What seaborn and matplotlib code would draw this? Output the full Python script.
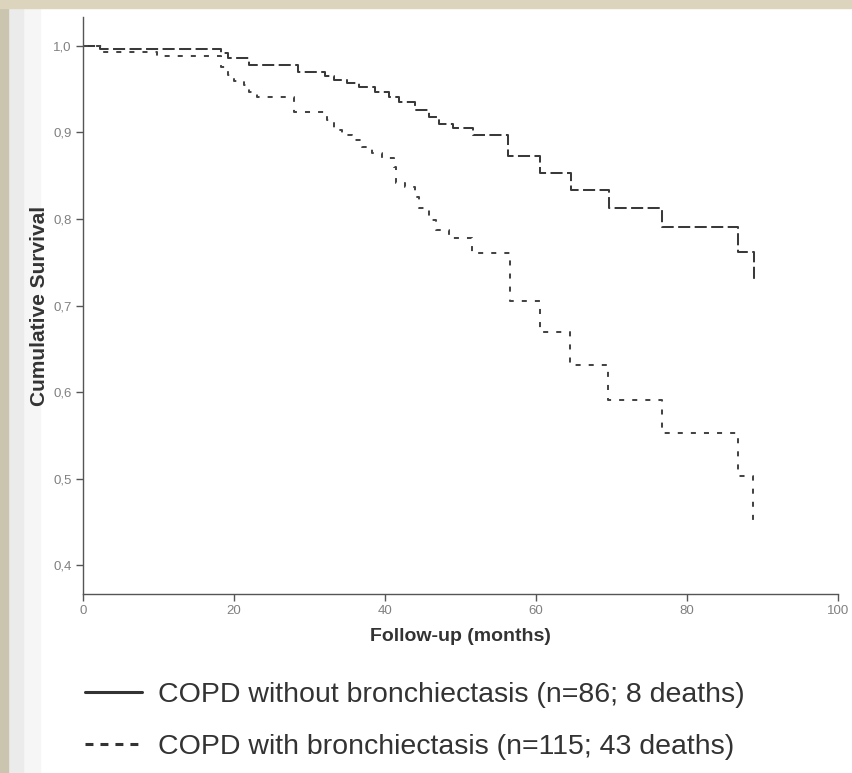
import numpy as np
import pandas as pd
import matplotlib
matplotlib.use('Agg')
import matplotlib.pyplot as plt
from matplotlib.lines import Line2D
from matplotlib.patches import Rectangle
from matplotlib.ticker import FuncFormatter
import seaborn as sns

# Kaplan-Meier steps (months, cumulative survival)
t_without = [0, 2.3, 18.3, 19.2, 22.0, 28.5, 32.0, 33.3, 35.0, 36.5, 38.7, 40.5, 41.9,
             44.0, 45.8, 47.2, 49.0, 51.6, 56.3, 60.5, 64.7, 69.7, 76.7, 86.7, 88.9]
s_without = [1.0, 0.997, 0.992, 0.986, 0.978, 0.970, 0.965, 0.961, 0.957, 0.953, 0.947, 0.941, 0.935,
             0.926, 0.918, 0.910, 0.905, 0.897, 0.873, 0.853, 0.833, 0.813, 0.791, 0.762, 0.729]

t_with = [0, 2.7, 9.8, 18.3, 19.2, 20.0, 21.3, 22.0, 23.0, 28.0, 32.3, 33.2, 34.3, 35.6, 37.0,
          38.3, 39.6, 41.2, 41.5, 42.7, 44.0, 44.5, 45.8, 46.7, 48.5, 51.5, 56.5, 60.5, 64.5,
          69.6, 76.7, 86.7, 88.8]
s_with = [1.0, 0.993, 0.988, 0.976, 0.966, 0.960, 0.955, 0.947, 0.941, 0.924, 0.914, 0.903, 0.897, 0.891, 0.883,
          0.876, 0.870, 0.860, 0.842, 0.837, 0.826, 0.813, 0.799, 0.787, 0.778, 0.761, 0.705, 0.669, 0.631,
          0.591, 0.553, 0.503, 0.444]

groups = ['COPD without bronchiectasis (n=86; 8 deaths)',
          'COPD with bronchiectasis (n=115; 43 deaths)']
x_ticks = [0, 20, 40, 60, 80, 100]
y_ticks = [0.4, 0.5, 0.6, 0.7, 0.8, 0.9, 1.0]

df = pd.concat([
    pd.DataFrame({'month': t_without, 'surv': s_without, 'group': groups[0]}),
    pd.DataFrame({'month': t_with, 'surv': s_with, 'group': groups[1]}),
], ignore_index=True)

sns.set_style('ticks')
plt.rcParams['font.family'] = ['Liberation Sans', 'DejaVu Sans']

fig = plt.figure(figsize=(8.52, 7.73), dpi=100)
fig.patch.set_facecolor('white')

# slide background strips
fig.add_artist(Rectangle((0, 0), 40/852, 1, transform=fig.transFigure, color='#f6f6f6', zorder=0))
fig.add_artist(Rectangle((0, 0), 23/852, 1, transform=fig.transFigure, color='#ebebeb', zorder=0))
fig.add_artist(Rectangle((0, 0), 8/852, 1, transform=fig.transFigure, color='#cbc4ae', zorder=0))
fig.add_artist(Rectangle((0, 1 - 8/773), 1, 8/773, transform=fig.transFigure, color='#dcd4bd', zorder=0))

ax = fig.add_axes([83/852, 1 - 594/773, (838 - 83)/852, (594 - 17)/773])
ax.set_facecolor('none')

sns.lineplot(data=df, x='month', y='surv', hue='group', style='group',
             palette={groups[0]: '#3a3a3a', groups[1]: '#454545'},
             dashes={groups[0]: (6.0, 2.2), groups[1]: (2.5, 4)},
             drawstyle='steps-post', linewidth=1.45, legend=False, ax=ax)

ax.set_xlim(0, 100)
ax.set_ylim(0.3665, 1.0335)
ax.set_xticks(x_ticks)
ax.set_yticks(y_ticks)
ax.yaxis.set_major_formatter(FuncFormatter(lambda v, p: f'{v:.1f}'.replace('.', ',')))
ax.tick_params(axis='both', direction='out', length=5, width=1.0, color='#555555',
               labelsize=9.5, labelcolor='#808080', pad=3)
sns.despine(ax=ax)
for side in ['left', 'bottom']:
    ax.spines[side].set_color('#555555')
    ax.spines[side].set_linewidth(1.0)

ax.set_xlabel('Follow-up (months)', fontsize=14, fontweight='bold', color='#333333', labelpad=8)
ax.set_ylabel('Cumulative Survival', fontsize=15, fontweight='bold', color='#333333', labelpad=3)

handles = [Line2D([], [], color='#333333', lw=2.2),
           Line2D([], [], color='#333333', lw=2.2, dashes=(2.6, 2.3))]
fig.legend(handles, groups, loc='upper left', bbox_to_anchor=(85/852, 1 - 682/773),
           frameon=False, fontsize=20.5, handlelength=2.0, handletextpad=0.56,
           labelspacing=0.9, borderpad=0, borderaxespad=0, labelcolor='#333333')

fig.savefig('out.png', dpi=100, facecolor=fig.get_facecolor())
